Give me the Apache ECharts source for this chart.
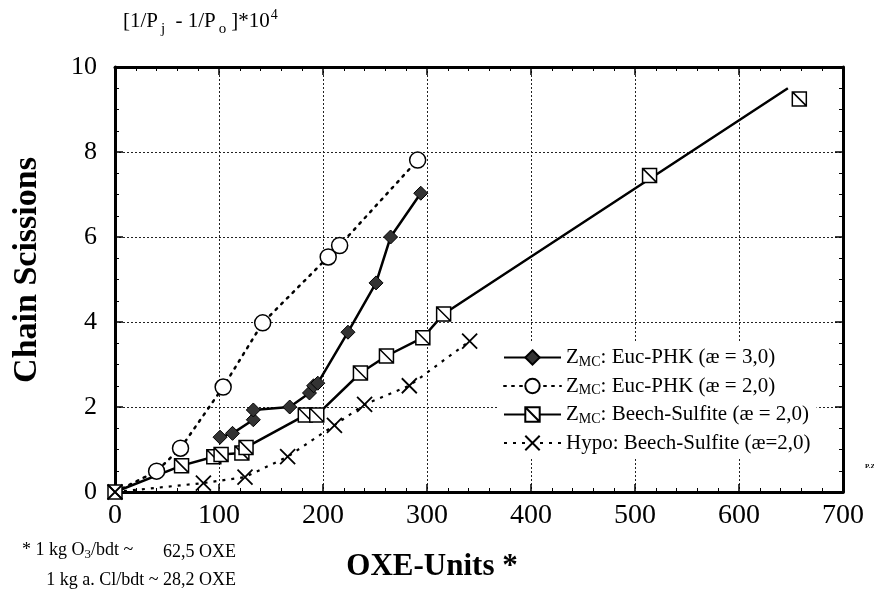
<!DOCTYPE html>
<html>
<head>
<meta charset="utf-8">
<script src="https://cdn.jsdelivr.net/npm/echarts@6/dist/echarts.min.js"></script>
<style>
  html, body { margin: 0; padding: 0; background: #fff; }
  #chart { width: 874px; height: 594px; }
</style>
</head>
<body>
<div id="chart"></div>
<script>
// data: [OXE-units, chain scissions]
const eucPhk30 = [[101, 1.29], [113, 1.38], [133, 1.7], [133, 1.93], [168, 2.0], [187, 2.33], [191, 2.5], [195, 2.56], [224, 3.76], [251, 4.92], [265, 6.0], [294, 7.03]];
const eucPhk20 = [[0, 0], [40, 0.49], [63, 1.03], [104, 2.47], [142, 3.98], [205, 5.53], [216, 5.8], [291, 7.81]];
const beechPts = [[0, 0], [64, 0.62], [95, 0.83], [102, 0.88], [122, 0.92], [126, 1.05], [183, 1.81], [194, 1.81], [236, 2.8], [261, 3.2], [296, 3.63], [316, 4.19], [514, 7.45], [658, 9.25]];
// the drawn line for beech misses the last two boxes a little
const beechLine = [[0, 0], [64, 0.62], [95, 0.83], [102, 0.88], [122, 0.92], [126, 1.05], [183, 1.81], [194, 1.81], [236, 2.8], [261, 3.2], [296, 3.63], [316, 4.19], [647, 9.5]];
const hypoBeech = [[0, 0], [85, 0.21], [125, 0.35], [166, 0.83], [211, 1.57], [240, 2.06], [283, 2.5], [341, 3.55]];

const xTicks = [0, 100, 200, 300, 400, 500, 600, 700];
const yTicks = [0, 2, 4, 6, 8, 10];

const legendNames = [
  '{z|Z}{sub|MC}{t|: Euc-PHK (æ = 3,0)}',
  '{z|Z}{sub|MC}{t|: Euc-PHK (æ = 2,0)}',
  '{z|Z}{sub|MC}{t|: Beech-Sulfite (æ = 2,0)}',
  '{t|Hypo: Beech-Sulfite (æ=2,0)}'
];

const serif = '"Liberation Serif", "DejaVu Serif", serif';
const boxSym = 'path://M0,0L10,0L10,10L0,10Z M0,0L10,10';
const crossSym = 'path://M0,0L10,10M10,0L0,10';

let chart = echarts.init(document.getElementById('chart'));

const axisCommon = {
  type: 'value',
  axisLine: { show: true, onZero: false, lineStyle: { color: '#000', width: 3 } },
  axisTick: { show: true, inside: true, length: 8, lineStyle: { color: '#000', width: 1.5 } },
  minorTick: { show: true, length: 4, lineStyle: { color: '#000', width: 1 } }
};

chart.setOption({
  animation: false,
  grid: { left: 115, right: 31, top: 67, bottom: 102, containLabel: false },
  xAxis: [
    Object.assign({}, axisCommon, {
      min: 0, max: 700, interval: 100,
      minorTick: Object.assign({}, axisCommon.minorTick, { splitNumber: 5 }),
      axisLabel: {
        margin: 10, color: '#000', fontFamily: serif, fontSize: 28,
        formatter: v => xTicks.indexOf(v) >= 0 ? String(v) : ''
      },
      splitLine: {
        show: true,
        lineStyle: { color: '#222', width: 1, type: [2, 2] }
      }
    }),
    Object.assign({}, axisCommon, {
      position: 'top', min: 0, max: 700, interval: 100,
      minorTick: Object.assign({}, axisCommon.minorTick, { splitNumber: 5 }),
      axisLabel: { show: false }, splitLine: { show: false }
    })
  ],
  yAxis: [
    Object.assign({}, axisCommon, {
      min: 0, max: 10, interval: 2,
      minorTick: Object.assign({}, axisCommon.minorTick, { splitNumber: 4 }),
      axisLabel: {
        margin: 18, color: '#000', fontFamily: serif, fontSize: 26,
        formatter: v => yTicks.indexOf(v) >= 0 ? String(v) : ''
      },
      splitLine: {
        show: true,
        lineStyle: { color: '#222', width: 1, type: [2, 2] }
      }
    }),
    Object.assign({}, axisCommon, {
      position: 'right', min: 0, max: 10, interval: 2,
      minorTick: Object.assign({}, axisCommon.minorTick, { splitNumber: 4 }),
      axisLabel: { show: false }, splitLine: { show: false }
    })
  ],
  legend: {
    data: legendNames,
    orient: 'vertical',
    left: 497,
    top: 343,
    itemWidth: 57,
    itemHeight: 18,
    itemGap: 6.5,
    padding: [4, 6, 4, 6],
    backgroundColor: '#fff',
    selectedMode: false,
    formatter: n => n,
    textStyle: {
      color: '#000',
      fontFamily: serif,
      fontSize: 21,
      rich: {
        z: { fontFamily: serif, fontSize: 21, color: '#000' },
        t: { fontFamily: serif, fontSize: 21, color: '#000' },
        sub: { fontFamily: serif, fontSize: 14, color: '#000', padding: [9, 0, 0, 0] }
      }
    }
  },
  graphic: [
    {
      type: 'text', left: 123, top: 8,
      style: {
        text: '{n|[1/P}{sub|j}{n| - 1/P}{sub|o}{n|]*10}{sup|4}',
        fill: '#000',
        rich: {
          n: { fontFamily: serif, fontSize: 21, fill: '#000' },
          sub: { fontFamily: serif, fontSize: 15, fill: '#000', padding: [16, 5, 0, 3] },
          sup: { fontFamily: serif, fontSize: 14, fill: '#000', padding: [0, 0, 12, 1] }
        }
      }
    },
    {
      type: 'text', x: 27, y: 270, rotation: Math.PI / 2,
      style: {
        text: 'Chain Scissions', fill: '#000',
        font: 'bold 34px ' + serif, textAlign: 'center', textVerticalAlign: 'middle'
      }
    },
    {
      type: 'text', x: 432, y: 567,
      style: {
        text: 'OXE-Units *', fill: '#000',
        font: 'bold 31px ' + serif, textAlign: 'center', textVerticalAlign: 'middle'
      }
    },
    {
      type: 'text', left: 22, top: 541,
      style: {
        text: '{n|* 1 kg O}{sub|3}{n|/bdt ~}',
        rich: {
          n: { fontFamily: serif, fontSize: 18, fill: '#000' },
          sub: { fontFamily: serif, fontSize: 13, fill: '#000', padding: [9, 0, 0, 0] }
        }
      }
    },
    {
      type: 'text', x: 236, y: 552,
      style: {
        text: '62,5 OXE', fill: '#000', font: '18px ' + serif,
        textAlign: 'right', textVerticalAlign: 'middle'
      }
    },
    {
      type: 'text', x: 236, y: 580,
      style: {
        text: '1 kg a. Cl/bdt ~ 28,2 OXE', fill: '#000', font: '18px ' + serif,
        textAlign: 'right', textVerticalAlign: 'middle'
      }
    },
    {
      type: 'text', x: 865, y: 466,
      style: { text: 'P.Z.', fill: '#000', font: 'bold 7px ' + serif, textVerticalAlign: 'middle' }
    }
  ],
  series: [
    {
      name: legendNames[0],
      type: 'line',
      data: eucPhk30,
      symbol: 'diamond',
      symbolSize: 14,
      itemStyle: { color: '#333', borderColor: '#000', borderWidth: 1 },
      lineStyle: { color: '#000', width: 2.5 },
      z: 5
    },
    {
      name: legendNames[1],
      type: 'line',
      data: eucPhk20.map((p, i) => i === 0 ? { value: p, symbol: 'none' } : p),
      symbol: 'circle',
      symbolSize: 16,
      itemStyle: { color: '#fff', borderColor: '#000', borderWidth: 1.5 },
      lineStyle: { color: '#000', width: 2.5, type: [2, 6], cap: 'round' },
      z: 4
    },
    {
      name: legendNames[2],
      type: 'line',
      data: beechLine,
      symbol: boxSym,
      symbolSize: 14,
      showSymbol: false,
      itemStyle: { color: '#fff', borderColor: '#000', borderWidth: 1.5 },
      lineStyle: { color: '#000', width: 2.5 },
      z: 3
    },
    {
      name: 'beechMarkers',
      type: 'scatter',
      data: beechPts,
      symbol: boxSym,
      symbolSize: 14,
      itemStyle: { color: '#fff', borderColor: '#000', borderWidth: 1.5, opacity: 1 },
      z: 4
    },
    {
      name: legendNames[3],
      type: 'line',
      data: hypoBeech,
      symbol: crossSym,
      symbolSize: 15,
      itemStyle: { color: 'none', borderColor: '#000', borderWidth: 1.8 },
      lineStyle: { color: '#000', width: 2.2, type: [3, 6] },
      z: 4
    }
  ]
});
</script>
</body>
</html>
